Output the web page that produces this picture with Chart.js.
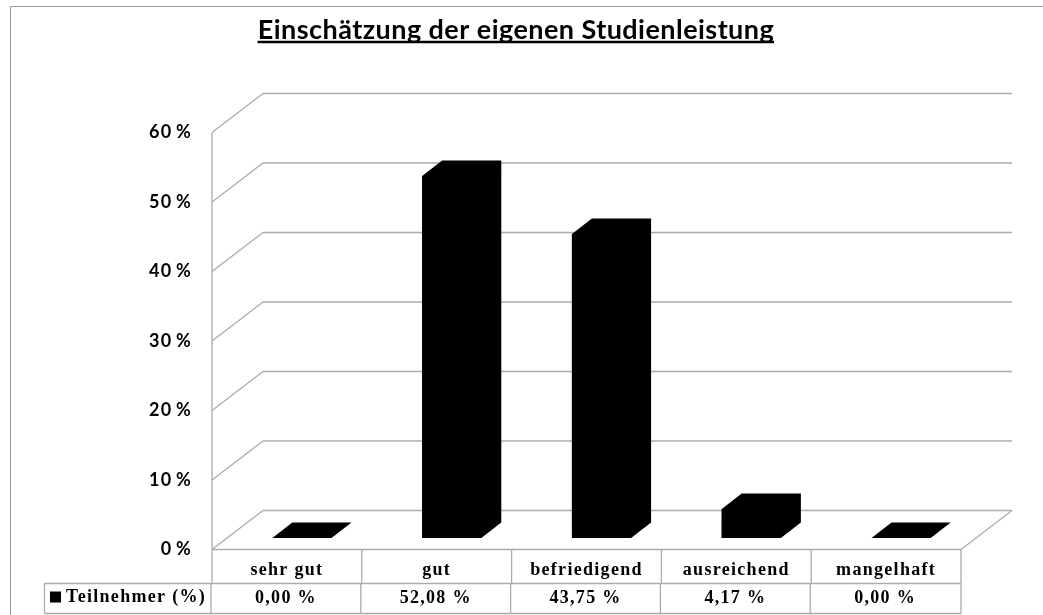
<!DOCTYPE html>
<html>
<head>
<meta charset="utf-8">
<title>Einschätzung der eigenen Studienleistung</title>
<script src="https://cdn.jsdelivr.net/npm/chart.js@4"></script>
<style>
  html, body { margin: 0; background: #fff; }
  canvas { display: block; }
</style>
</head>
<body>
<canvas id="canvas" width="1043" height="615"></canvas>
<script>
var titleText = 'Einschätzung der eigenen Studienleistung';
var categories = ['sehr gut', 'gut', 'befriedigend', 'ausreichend', 'mangelhaft'];
var seriesName = 'Teilnehmer (%)';
var teilnehmer = [0, 52.08, 43.75, 4.17, 0];
var tableLabels = ['0,00 %', '52,08 %', '43,75 %', '4,17 %', '0,00 %'];

var gridColor = '#ababab';
var wallDx = 51, wallDy = -39;  // Tiefe des Bodens
var barDx = 15, barDy = -11.5;  // Versatz der Balken nach hinten
var depthDx = 20, depthDy = -15.5; // Tiefe der Balken

function line(ctx, x1, y1, x2, y2) {
  ctx.beginPath();
  ctx.moveTo(x1, y1);
  ctx.lineTo(x2, y2);
  ctx.stroke();
}

// Rahmen, Wandlinien und Boden
var wallPlugin = {
  id: 'wall',
  beforeDraw: function (chart) {
    chart.ctx.letterSpacing = '1.3px'; // gilt auch fuer die Achsenbeschriftung
  },
  beforeDatasetsDraw: function (chart) {
    var ctx = chart.ctx, x = chart.scales.x, y = chart.scales.y;
    ctx.save();
    ctx.lineWidth = 1;
    ctx.strokeStyle = '#999';
    line(ctx, 10.5, 6.5, 1043, 6.5);
    line(ctx, 10.5, 6.5, 10.5, 615);
    ctx.strokeStyle = gridColor;
    ctx.lineWidth = 1.3;
    y.ticks.forEach(function (t) {
      var py = y.getPixelForValue(t.value);
      line(ctx, x.left, py, x.left + wallDx, py + wallDy);
      line(ctx, x.left + wallDx, py + wallDy, x.right + wallDx, py + wallDy);
    });
    line(ctx, x.left, y.top, x.left, y.bottom);
    line(ctx, x.left, y.bottom, x.right, y.bottom);
    line(ctx, x.right, y.bottom, x.right + wallDx, y.bottom + wallDy);
    ctx.restore();
  },
  // Balken nach hinten schieben
  beforeDatasetDraw: function (chart) {
    chart.ctx.save();
    chart.ctx.translate(barDx, barDy);
  },
  // Oberseite und rechte Seite dazu
  afterDatasetDraw: function (chart, args) {
    var ctx = chart.ctx;
    ctx.fillStyle = '#000';
    args.meta.data.forEach(function (bar) {
      var l = bar.x - bar.width / 2, r = bar.x + bar.width / 2;
      ctx.beginPath();
      ctx.moveTo(l, bar.y);
      ctx.lineTo(l + depthDx, bar.y + depthDy);
      ctx.lineTo(r + depthDx, bar.y + depthDy);
      ctx.lineTo(r + depthDx, bar.base + depthDy);
      ctx.lineTo(r, bar.base);
      ctx.lineTo(l, bar.base);
      ctx.closePath();
      ctx.fill();
    });
    ctx.restore();
  },
  // Titel, Datentabelle
  afterDraw: function (chart) {
    var ctx = chart.ctx, x = chart.scales.x, y = chart.scales.y;
    var row1 = 583.5, row2 = 613.5, left = 44.5;
    ctx.save();

    ctx.fillStyle = '#000';
    ctx.font = 'bold 27px Lato';
    ctx.letterSpacing = '0.45px';
    ctx.textAlign = 'center';
    ctx.textBaseline = 'alphabetic';
    ctx.fillText(titleText, 516, 39);
    ctx.strokeStyle = '#000';
    ctx.lineWidth = 2.5;
    line(ctx, 257.5, 42, 774, 42);

    ctx.strokeStyle = gridColor;
    ctx.lineWidth = 1.3;
    var step = (x.right - x.left) / categories.length;
    for (var i = 0; i <= categories.length; i++) {
      var px = x.left + step * i;
      line(ctx, px, y.bottom, px, row1);
      line(ctx, i == categories.length ? px : px - 1, row1, i == categories.length ? px : px - 1, row2);
    }
    line(ctx, left, row1, x.right, row1);
    line(ctx, left, row2, x.right, row2);
    line(ctx, left, row1, left, row2);

    ctx.fillRect(50, 591.5, 11, 11);
    ctx.font = 'bold 18px "Liberation Serif"';
    ctx.letterSpacing = '1.3px';
    ctx.textBaseline = 'middle';
    ctx.textAlign = 'left';
    ctx.fillText(seriesName, 66, 597.5);
    ctx.textAlign = 'center';
    tableLabels.forEach(function (s, i) {
      ctx.fillText(s, x.getPixelForTick(i) - 1, 598);
    });
    ctx.restore();
    ctx.letterSpacing = '0px';
  }
};

function drawChart() {
  var ctx = document.getElementById('canvas').getContext('2d');
  window.myChart = new Chart(ctx, {
    type: 'bar',
    data: {
      labels: categories,
      datasets: [{
        label: seriesName,
        data: teilnehmer,
        backgroundColor: '#000',
        borderWidth: 0,
        categoryPercentage: 1,
        barPercentage: 0.395
      }]
    },
    options: {
      responsive: false,
      animation: false,
      layout: { padding: { left: 0, right: 82, top: 132.5, bottom: 0 } },
      plugins: {
        legend: { display: false },
        tooltip: { enabled: false }
      },
      scales: {
        x: {
          grid: { display: false },
          border: { display: false },
          ticks: {
            color: '#000',
            font: { family: '"Liberation Serif"', size: 18, weight: 'bold' },
            padding: 2,
            maxRotation: 0
          },
          afterFit: function (s) { s.height = 65.5; }
        },
        y: {
          min: 0,
          max: 60,
          grid: { display: false },
          border: { display: false },
          ticks: {
            stepSize: 10,
            color: '#000',
            font: { family: 'Lato', size: 18, weight: 'bold' },
            padding: 12,
            callback: function (v) { return v + '\u2009%'; }
          },
          afterFit: function (s) { s.width = 212; }
        }
      }
    },
    plugins: [wallPlugin]
  });
}
drawChart();
</script>
</body>
</html>
